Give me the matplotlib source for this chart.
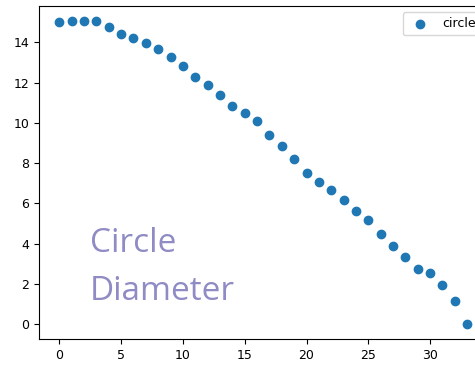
import matplotlib
matplotlib.use("Agg")
import matplotlib.pyplot as plt

x_vals = list(range(34))
diameters = [15.01, 15.05, 15.05, 15.05, 14.75, 14.43, 14.2, 13.94, 13.65, 13.26,
             12.83, 12.28, 11.87, 11.37, 10.84, 10.49, 10.08, 9.37, 8.87, 8.19,
             7.53, 7.04, 6.67, 6.16, 5.6, 5.15, 4.47, 3.89, 3.36, 2.73,
             2.52, 1.92, 1.13, 0.0]
series_label = "circle"
annotation = "Circle\nDiameter"

plt.rcParams["font.size"] = 9

fig = plt.figure(figsize=(4.75, 3.65), dpi=100)
ax = fig.add_axes([0.0819, 0.0704, 0.9446, 0.9132])
ax.scatter(x_vals, diameters, label=series_label, color="#1f77b4")
ax.legend(loc="upper right")
ax.text(2.45, 1.2, annotation, fontsize=24, color="#8f8bc4",
        family=["Open Sans", "DejaVu Sans"], ha="left", va="baseline",
        linespacing=1.6)
fig.savefig("out.png", dpi=100)
